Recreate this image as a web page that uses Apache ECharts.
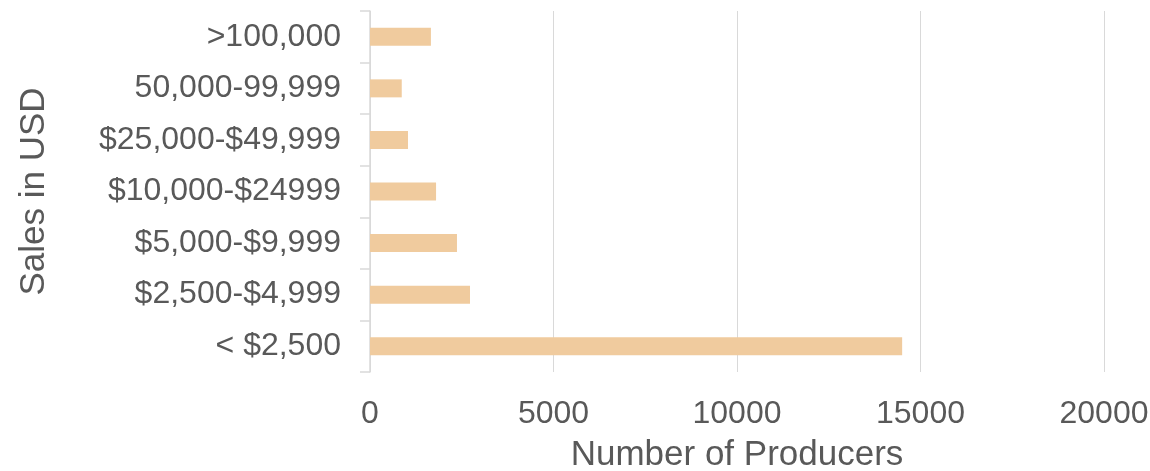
<!DOCTYPE html>
<html>
<head>
<meta charset="utf-8">
<script src="https://cdn.jsdelivr.net/npm/echarts@6/dist/echarts.min.js"></script>
<style>html,body{margin:0;padding:0;background:#fff}#c{width:1150px;height:471px}</style>
</head>
<body>
<div id="c"></div>
<script>
var categories = ["< $2,500", "$2,500-$4,999", "$5,000-$9,999", "$10,000-$24999", "$25,000-$49,999", "50,000-99,999", ">100,000"];
var producers = [14500, 2725, 2370, 1800, 1035, 865, 1660];
var xTicks = [0, 5000, 10000, 15000, 20000];

var chart = echarts.init(document.getElementById('c'));
chart.setOption({
  animation: false,
  textStyle: {fontFamily: 'Liberation Sans, Arial, sans-serif'},
  grid: {left: 370, right: 46, top: 11, bottom: 99, containLabel: false, outerBoundsMode: 'none'},
  xAxis: {
    type: 'value',
    min: xTicks[0], max: xTicks[xTicks.length - 1], interval: 5000,
    name: 'Number of Producers', nameLocation: 'middle', nameGap: 66,
    nameTextStyle: {fontSize: 35, color: '#595959', fontFamily: 'Liberation Sans'},
    axisLine: {show: false}, axisTick: {show: false},
    axisLabel: {fontSize: 32, color: '#595959', margin: 26, fontFamily: 'Liberation Sans',
      formatter: function (v) { return String(v); }},
    splitLine: {show: true, lineStyle: {color: '#d9d9d9', width: 1}}
  },
  yAxis: {
    type: 'category', data: categories,
    name: 'Sales in USD', nameLocation: 'middle', nameGap: 318, nameRotate: 90,
    nameTextStyle: {fontSize: 35, color: '#595959', fontFamily: 'Liberation Sans'},
    axisLine: {show: true, lineStyle: {color: '#d9d9d9', width: 1.5}},
    axisTick: {show: true, length: 10, lineStyle: {color: '#d9d9d9', width: 1.5}},
    axisLabel: {fontSize: 32, color: '#595959', margin: 29, fontFamily: 'Liberation Sans'},
    splitLine: {show: false}
  },
  series: [{
    type: 'bar', data: producers, barWidth: 18,
    itemStyle: {color: '#F0CB9E'}
  }]
});
</script>
</body>
</html>
